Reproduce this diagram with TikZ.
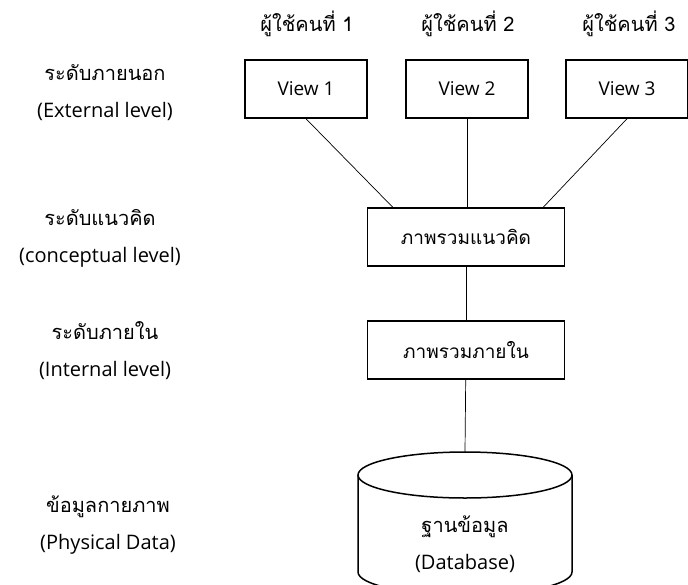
\documentclass[tikz,border=0pt]{standalone}
\usepackage{fontspec}
\setmainfont{Open Sans}
\newfontfamily\thai[Script=Thai]{Loma}
\usetikzlibrary{positioning}

\begin{document}
\begin{tikzpicture}[x=1pt, y=-1pt,
    view/.style={draw, line width=1.5pt, minimum width=122pt,
      minimum height=58pt, font=\fontsize{19}{22}\selectfont},
    schema/.style={draw, line width=1.5pt, minimum width=197pt,
      minimum height=58pt, font=\thai\fontsize{19}{22}\selectfont},
    lbl/.style={align=center, font=\fontsize{20}{37}\selectfont},
    link/.style={line width=0.7pt}]
  \useasboundingbox (0,0) rectangle (688,584);

  \node[lbl] (u1) at (307,24) {\thai ผู้ใช้คนที่ 1};
  \node[lbl] (u2) at (468,24) {\thai ผู้ใช้คนที่ 2};
  \node[lbl] (u3) at (629,24) {\thai ผู้ใช้คนที่ 3};

  \node[view] (v1) at (306,89) {View 1};
  \node[view] (v2) at (467,89) {View 2};
  \node[view] (v3) at (627,89) {View 3};

  \node[schema] (concept) at (466,237) {ภาพรวมแนวคิด};
  \node[schema] (internal) at (466,350) {ภาพรวมภายใน};

  \node[lbl] (extlvl) at (105,93) {{\thai ระดับภายนอก}\\(External level)};
  \node[lbl] (conlvl) at (100,238) {{\thai ระดับแนวคิด}\\(conceptual level)};
  \node[lbl] (intlvl) at (105,351) {{\thai ระดับภายใน}\\(Internal level)};
  \node[lbl] (phylvl) at (108,525) {{\thai ข้อมูลกายภาพ}\\(Physical Data)};

  \draw[line width=1.5pt] (358,475) -- (358,572)
    arc[start angle=180, end angle=360, x radius=107pt, y radius=23pt]
    -- (572,475);
  \draw[line width=1.5pt] (465,475) ellipse [x radius=107pt, y radius=23pt];
  \coordinate (dbtop) at (465,452);
  \node[lbl] (db) at (465,544) {{\thai ฐานข้อมูล}\\(Database)};

  \draw[link] (v1.south) -- ([xshift=26pt]concept.north west);
  \draw[link] (v2.south) -- (v2.south |- concept.north);
  \draw[link] (v3.south) -- ([xshift=-22pt]concept.north east);
  \draw[link] (concept) -- (internal);
  \draw[link] (internal) -- (dbtop);
\end{tikzpicture}
\end{document}
